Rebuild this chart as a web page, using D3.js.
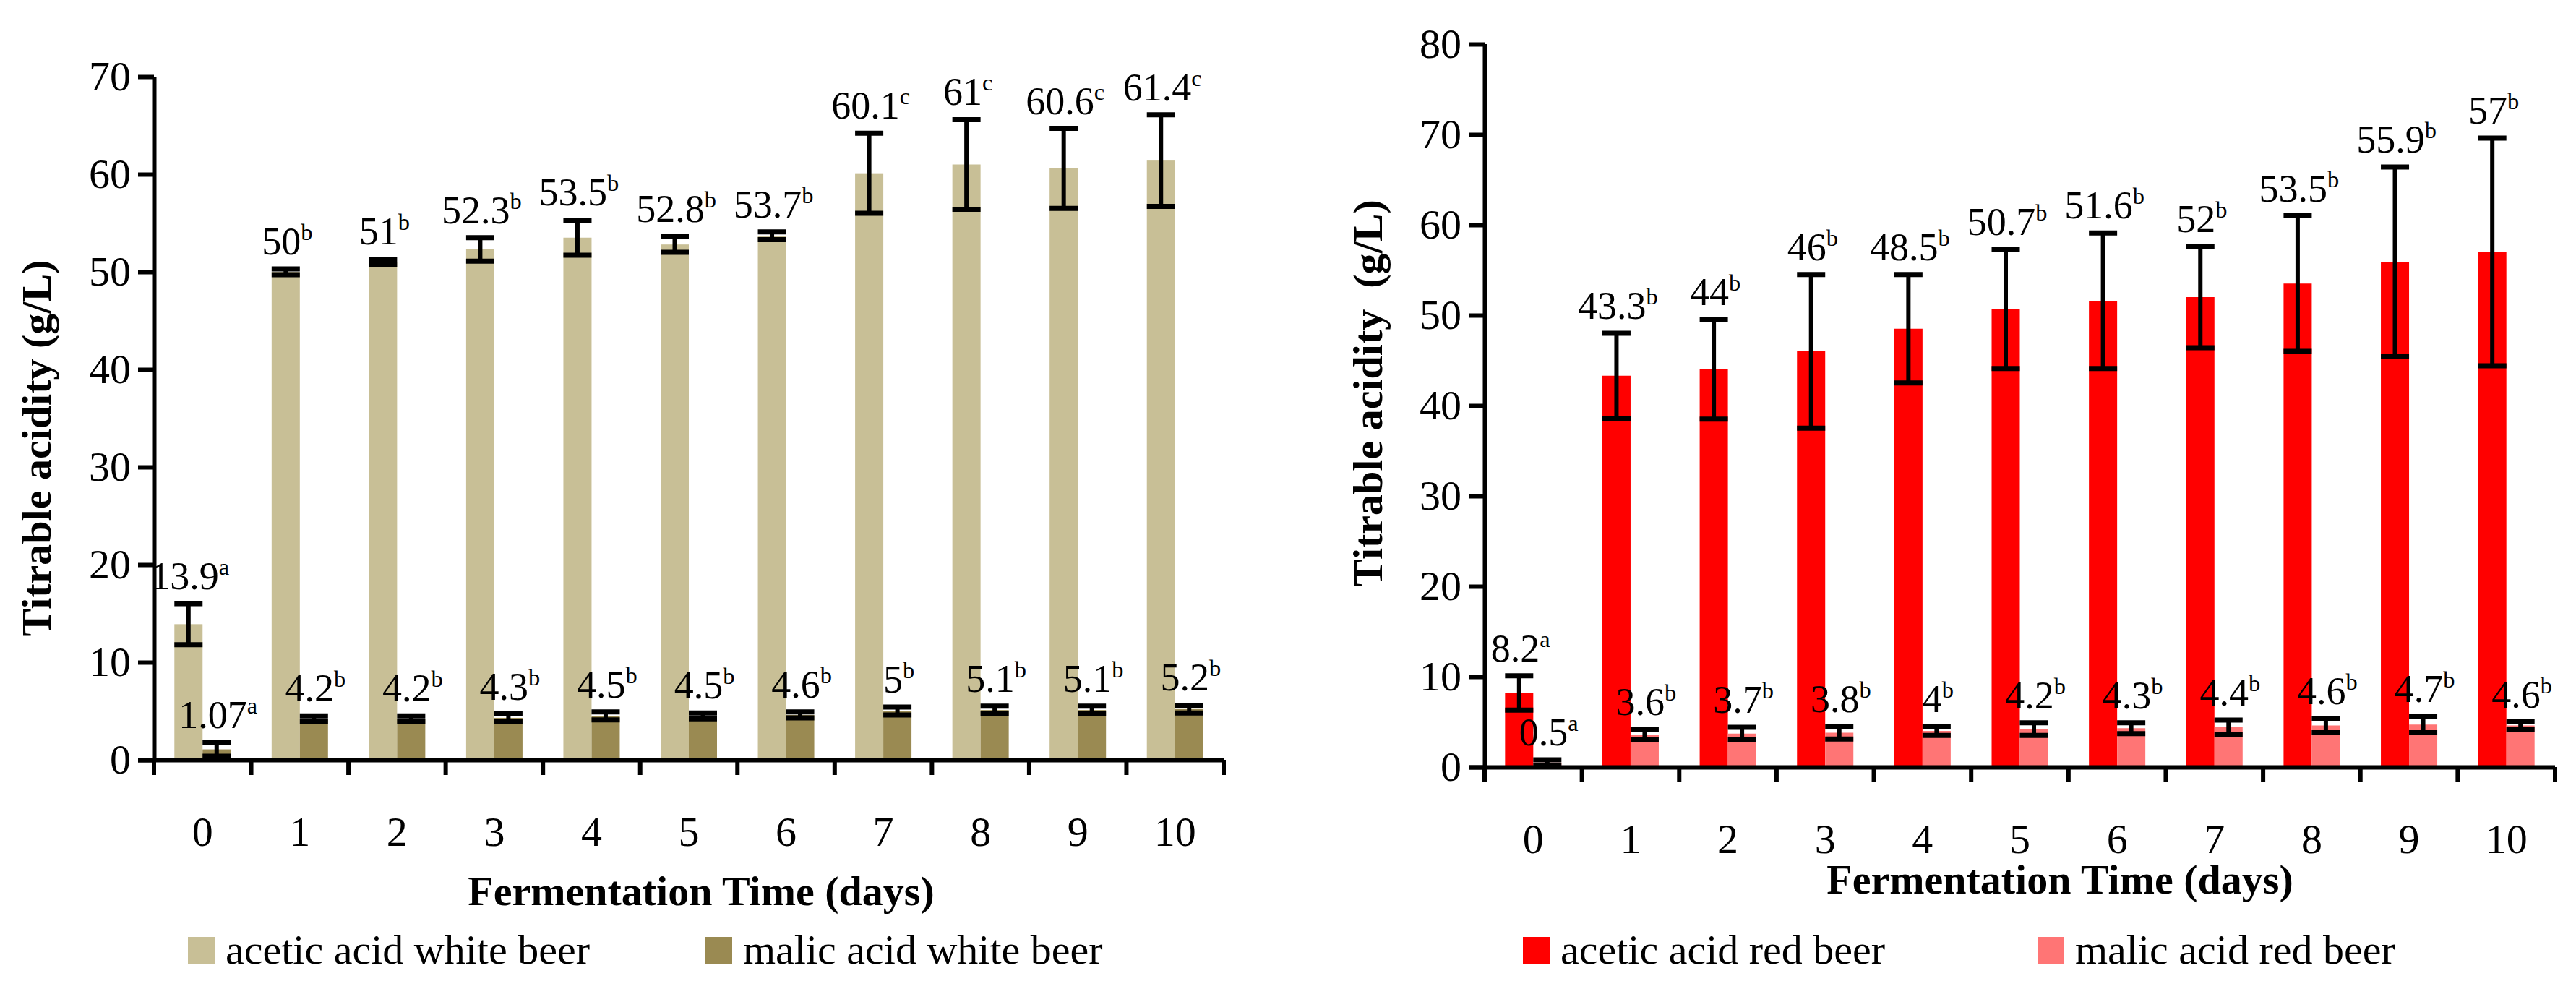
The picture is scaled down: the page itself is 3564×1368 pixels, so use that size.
<!DOCTYPE html>
<html><head><meta charset="utf-8">
<script src="https://cdn.jsdelivr.net/npm/d3@7"></script>
<style>body{margin:0;background:#fff}svg{display:block}text{font-family:"Liberation Serif","DejaVu Serif",serif;fill:#000}</style>
</head><body>
<script>
const days = ["0","1","2","3","4","5","6","7","8","9","10"];
const whiteAcetic = [13.9,50,51,52.3,53.5,52.8,53.7,60.1,61,60.6,61.4];
const whiteAceticErr = [2.1,0.3,0.3,1.2,1.8,0.8,0.4,4.1,4.6,4.1,4.7];
const whiteAceticSup = ["a","b","b","b","b","b","b","c","c","c","c"];
const whiteMalic = [1.07,4.2,4.2,4.3,4.5,4.5,4.6,5,5.1,5.1,5.2];
const whiteMalicErr = [0.7,0.3,0.3,0.4,0.4,0.3,0.3,0.4,0.4,0.4,0.4];
const whiteMalicSup = ["a","b","b","b","b","b","b","b","b","b","b"];
const redAcetic = [8.2,43.3,44,46,48.5,50.7,51.6,52,53.5,55.9,57];
const redAceticErr = [1.9,4.7,5.5,8.5,6.0,6.6,7.5,5.6,7.5,10.5,12.6];
const redAceticSup = ["a","b","b","b","b","b","b","b","b","b","b"];
const redMalic = [0.5,3.6,3.7,3.8,4,4.2,4.3,4.4,4.6,4.7,4.6];
const redMalicErr = [0.3,0.6,0.7,0.7,0.5,0.7,0.6,0.8,0.8,0.9,0.4];
const redMalicSup = ["a","b","b","b","b","b","b","b","b","b","b"];
const whiteTicks = [0,10,20,30,40,50,60,70];
const redTicks = [0,10,20,30,40,50,60,70,80];

const svg = d3.select("body").append("svg").attr("width",3564).attr("height",1368);
const FS = 58, LFS = 54;

function chart(o){
  const x = d3.scaleBand().domain(days).range([o.x0,o.x1]);
  const y = d3.scaleLinear().domain([0,o.max]).range([o.y0,o.yTop]);
  const g = svg.append("g");
  const bw = 39, off = (x.bandwidth()-2*bw)/2;
  const series = [
    {v:o.a, e:o.ae, s:o.as, c:o.ca, dx:off},
    {v:o.m, e:o.me, s:o.ms, c:o.cm, dx:off+bw}
  ];
  series.forEach(se=>{
    g.selectAll(null).data(days).enter().append("rect")
      .attr("x",d=>x(d)+se.dx).attr("width",bw)
      .attr("y",(d,i)=>y(se.v[i])).attr("height",(d,i)=>y(0)-y(se.v[i]))
      .attr("fill",se.c);
  });
  series.forEach(se=>{
    days.forEach((d,i)=>{
      const cx = x(d)+se.dx+bw/2;
      const t = y(se.v[i]+se.e[i]), b = y(Math.max(0,se.v[i]-se.e[i]));
      g.append("line").attr("x1",cx).attr("x2",cx).attr("y1",t).attr("y2",b).attr("stroke","#000").attr("stroke-width",6);
      [t,b].forEach(yy=>g.append("line").attr("x1",cx-bw/2).attr("x2",cx+bw/2).attr("y1",yy).attr("y2",yy).attr("stroke","#000").attr("stroke-width",7));
      const tx = g.append("text").attr("x",cx+2).attr("y",t-20).attr("text-anchor","middle").attr("font-size",LFS);
      tx.append("tspan").text(se.v[i]);
      tx.append("tspan").attr("font-size",LFS*0.6).attr("dy",-20).text(se.s[i]);
    });
  });
  const ya = g.append("g").attr("transform",`translate(${o.x0},0)`)
    .call(d3.axisLeft(y).tickValues(o.ticks).tickSize(22).tickPadding(10).tickSizeOuter(0));
  const xa = g.append("g").attr("transform",`translate(0,${o.y0})`)
    .call(d3.axisBottom(x).tickSize(0).tickPadding(78));
  xa.selectAll(".tick line").remove();
  g.append("g").selectAll(null).data(d3.range(12)).enter().append("line")
    .attr("x1",i=>o.x0+i*x.bandwidth()).attr("x2",i=>o.x0+i*x.bandwidth())
    .attr("y1",o.y0).attr("y2",o.y0+21).attr("stroke","#000").attr("stroke-width",6);
  [ya,xa].forEach(a=>{
    a.selectAll("path,line").attr("stroke","#000").attr("stroke-width",6);
    a.selectAll("text").attr("font-size",FS).attr("font-family",'"Liberation Serif",serif');
  });
  xa.select("path").attr("d",`M${o.x0-22},0.5H${o.x1}`);
  ya.select("path").attr("d",`M0.5,${o.y0}V${o.yTop}`);
  g.append("text").attr("x",o.xtx).attr("y",o.xty).attr("text-anchor","middle").attr("font-size",FS).attr("font-weight","bold").text("Fermentation Time (days)");
  g.append("text").attr("transform",`translate(${o.ytx},${o.yty}) rotate(-90)`).attr("text-anchor","middle").attr("font-size",FS).attr("font-weight","bold").style("white-space","pre").text(o.ytitle);
  o.leg.forEach(l=>{
    g.append("rect").attr("x",l.x).attr("y",1296).attr("width",37).attr("height",37).attr("fill",l.c);
    g.append("text").attr("x",l.x+52).attr("y",1333).attr("font-size",FS).text(l.t);
  });
}

chart({x0:213,x1:1693,y0:1051,yTop:106,max:70,ticks:whiteTicks,
  a:whiteAcetic,ae:whiteAceticErr,as:whiteAceticSup,m:whiteMalic,me:whiteMalicErr,ms:whiteMalicSup,
  ca:"#C8BF96",cm:"#9A8A52",xtx:970,xty:1252,ytx:70,yty:620,ytitle:"Titrable acidity (g/L)",
  leg:[{x:260,c:"#C8BF96",t:"acetic acid white beer"},{x:976,c:"#9A8A52",t:"malic acid white beer"}]});
chart({x0:2054,x1:3535,y0:1061,yTop:61,max:80,ticks:redTicks,
  a:redAcetic,ae:redAceticErr,as:redAceticSup,m:redMalic,me:redMalicErr,ms:redMalicSup,
  ca:"#FF0000",cm:"#FF7575",xtx:2850,xty:1236,ytx:1912,yty:544,ytitle:"Titrable acidity  (g/L)",
  leg:[{x:2107,c:"#FF0000",t:"acetic acid red beer"},{x:2819,c:"#FF7575",t:"malic acid red beer"}]});
</script>
</body></html>
